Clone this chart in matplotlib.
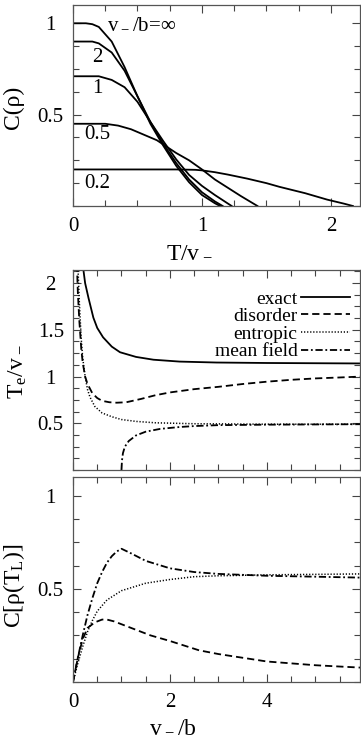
import numpy as np
import matplotlib
matplotlib.use("Agg")
import matplotlib.pyplot as plt
from matplotlib.ticker import MultipleLocator

plt.rcParams['font.family'] = ['Liberation Serif', 'DejaVu Serif']
plt.rcParams['mathtext.default'] = 'regular'
plt.rcParams['font.size'] = 15

# --- верхняя панель: C(rho) от T/v_ для разных v_/b ---
t_inf = [0, 0.1, 0.15, 0.2, 0.3, 0.4, 0.5, 0.6, 0.7, 0.8, 0.9, 1.0, 1.1, 1.14]
c_inf = [1, 1, 0.995, 0.98, 0.90, 0.76, 0.60, 0.45, 0.33, 0.22, 0.13, 0.06, 0.015, 0]
t_2 = [0, 0.15, 0.2, 0.3, 0.4, 0.5, 0.6, 0.7, 0.8, 0.9, 1.0, 1.1, 1.16]
c_2 = [0.9, 0.9, 0.89, 0.84, 0.74, 0.60, 0.46, 0.34, 0.235, 0.145, 0.075, 0.025, 0]
t_1 = [0, 0.2, 0.3, 0.4, 0.5, 0.6, 0.7, 0.8, 0.9, 1.0, 1.1, 1.23]
c_1 = [0.71, 0.71, 0.69, 0.65, 0.57, 0.46, 0.355, 0.255, 0.17, 0.11, 0.06, 0]
t_05 = [0, 0.25, 0.35, 0.45, 0.55, 0.65, 0.8, 0.9, 1.0, 1.1, 1.2, 1.3, 1.43]
c_05 = [0.45, 0.45, 0.44, 0.42, 0.39, 0.36, 0.29, 0.25, 0.2, 0.145, 0.1, 0.055, 0]
t_02 = [0, 0.8, 0.95, 1.0, 1.1, 1.2, 1.35, 1.5, 1.6, 1.8, 1.97, 2.1, 2.17]
c_02 = [0.2, 0.2, 0.198, 0.195, 0.185, 0.172, 0.15, 0.125, 0.105, 0.07, 0.035, 0.013, 0]
curve_labels = ['v$_-$/b=∞', '2', '1', '0.5', '0.2']

# --- средняя панель: T_e/v_ от v_/b ---
x_exact = [0.2, 0.25, 0.32, 0.42, 0.5, 0.62, 0.8, 0.97, 1.3, 1.66, 2.2, 2.96, 4.0, 5.95]
te_exact = [2.2, 2.0, 1.84, 1.63, 1.52, 1.42, 1.32, 1.26, 1.21, 1.18, 1.16, 1.15, 1.145, 1.14]
x_dis = [0.08, 0.1, 0.13, 0.17, 0.2, 0.25, 0.3, 0.4, 0.5, 0.6, 0.75, 0.9, 1.1, 1.4, 1.7,
         2.0, 2.5, 3.0, 3.5, 4.0, 4.5, 5.0, 5.5, 5.95]
te_dis = [2.2, 1.9, 1.6, 1.3, 1.15, 1.0, 0.92, 0.82, 0.77, 0.74, 0.725, 0.72, 0.725, 0.76, 0.80,
          0.83, 0.865, 0.89, 0.92, 0.945, 0.965, 0.98, 0.99, 1.0]
x_ent = [0.10, 0.13, 0.17, 0.2, 0.25, 0.3, 0.35, 0.45, 0.6, 0.8, 1.0, 1.3, 1.7, 2.5, 4.0, 5.95]
te_ent = [2.2, 1.8, 1.4, 1.2, 1.0, 0.86, 0.78, 0.68, 0.61, 0.57, 0.54, 0.52, 0.505, 0.495, 0.49, 0.49]
x_mf = [1.0, 1.01, 1.03, 1.07, 1.15, 1.3, 1.5, 1.8, 2.2, 2.5, 3.0, 4.0, 5.95]
te_mf = [0.0, 0.1, 0.18, 0.25, 0.31, 0.37, 0.41, 0.44, 0.46, 0.47, 0.48, 0.485, 0.49]
legend_labels = ['exact', 'disorder', 'entropic', 'mean field']

# --- нижняя панель: C[rho(T_L)] от v_/b ---
xb_dis = [0, 0.1, 0.2, 0.3, 0.45, 0.6, 0.7, 0.85, 1.0, 1.3, 1.6, 2.0, 2.6, 3.0, 3.5, 4.0,
          4.5, 5.0, 5.5, 5.95]
cb_dis = [0, 0.13, 0.23, 0.29, 0.32, 0.335, 0.335, 0.325, 0.31, 0.28, 0.25, 0.22, 0.17, 0.15,
          0.13, 0.11, 0.10, 0.09, 0.083, 0.077]
xb_ent = [0, 0.1, 0.2, 0.3, 0.4, 0.5, 0.7, 1.0, 1.5, 2.0, 2.5, 3.0, 4.0, 5.95]
cb_ent = [0, 0.1, 0.19, 0.27, 0.33, 0.38, 0.44, 0.49, 0.53, 0.55, 0.565, 0.57, 0.575, 0.58]
xb_mf = [0, 0.1, 0.2, 0.3, 0.4, 0.5, 0.6, 0.7, 0.8, 0.9, 1.0, 1.2, 1.5, 2.0, 2.5, 3.0, 4.0,
         5.0, 5.95]
cb_mf = [0, 0.13, 0.25, 0.36, 0.45, 0.53, 0.59, 0.64, 0.675, 0.70, 0.715, 0.69, 0.65, 0.61,
         0.59, 0.58, 0.57, 0.565, 0.56]

# деления и подписи осей
yt_top = [0.5, 1.0]
yt_top_lab = ['0.5', '1']
yt_mid = [0.5, 1.0, 1.5, 2.0]
yt_mid_lab = ['0.5', '1', '1.5', '2']
yt_bot = [0.5, 1.0]
yt_bot_lab = ['0.5', '1']
xt_top = [0, 1, 2]
xt_top_lab = ['0', '1', '2']
xt_bot = [0, 2, 4]
xt_bot_lab = ['0', '2', '4']

W, H = 361, 743
fig = plt.figure(figsize=(W / 100, H / 100), dpi=100)


def axes_px(left, top, right, bottom):
    return fig.add_axes([left / W, 1 - bottom / H, (right - left) / W, (bottom - top) / H])


ax1 = axes_px(73, 5, 360, 206)
ax2 = axes_px(73, 270, 360, 470)
ax3 = axes_px(73, 477, 360, 682)

lw = 1.3
ls_dis = (0, (4, 2.2))
ls_ent = (0, (0.8, 1.2))
ls_mf = (0, (4, 1.5, 1, 1.5))

for t, c in [(t_inf, c_inf), (t_2, c_2), (t_1, c_1), (t_05, c_05), (t_02, c_02)]:
    ax1.plot(t, c, color='black', lw=lw)

# подписи кривых
ax1.text(0.26, 1.0, curve_labels[0], ha='left', va='center')
ax1.text(0.19, 0.81, curve_labels[1], ha='center', va='center')
ax1.text(0.19, 0.645, curve_labels[2], ha='center', va='center')
ax1.text(0.19, 0.39, curve_labels[3], ha='center', va='center')
ax1.text(0.19, 0.125, curve_labels[4], ha='center', va='center')

ax2.plot(x_exact, te_exact, color='black', lw=lw, label=legend_labels[0])
ax2.plot(x_dis, te_dis, color='black', lw=lw, ls=ls_dis, label=legend_labels[1])
ax2.plot(x_ent, te_ent, color='black', lw=1.1, ls=ls_ent, label=legend_labels[2])
ax2.plot(x_mf, te_mf, color='black', lw=lw, ls=ls_mf, label=legend_labels[3])
ax2.legend(loc='upper right', bbox_to_anchor=(0.965, 0.9), frameon=False, markerfirst=False,
           borderaxespad=0, borderpad=0, labelspacing=0.0, handlelength=2.5,
           handletextpad=0.2, fontsize=14)

ax3.plot(xb_dis, cb_dis, color='black', lw=lw, ls=ls_dis)
ax3.plot(xb_ent, cb_ent, color='black', lw=1.1, ls=ls_ent)
ax3.plot(xb_mf, cb_mf, color='black', lw=lw, ls=ls_mf)

ax1.xaxis.set_minor_locator(MultipleLocator(0.25))
ax1.set_xticks(xt_top, xt_top_lab)
ax1.set_yticks(yt_top, yt_top_lab, ha='center')
ax2.set_xticks(xt_bot, [])
ax2.set_yticks(yt_mid, yt_mid_lab, ha='center')
ax3.set_xticks(xt_bot, xt_bot_lab)
ax3.set_yticks(yt_bot, yt_bot_lab, ha='center')
for ax in (ax2, ax3):
    ax.xaxis.set_minor_locator(MultipleLocator(0.5))

for ax in (ax1, ax2, ax3):
    ax.yaxis.set_minor_locator(MultipleLocator(0.125))
    ax.tick_params(which='both', direction='in', top=True, right=True, width=0.8,
                   color='#444444', labelsize=15)
    ax.tick_params(which='major', length=6)
    ax.tick_params(which='minor', length=4)
    ax.tick_params(axis='x', pad=8)
    ax.tick_params(axis='y', pad=16)
    for sp in ax.spines.values():
        sp.set_color('#555555')
        sp.set_linewidth(0.9)

ax1.set_xlim(0, 2.225)
ax1.set_ylim(0, 1.1)
ax2.set_xlim(0, 5.92)
ax2.set_ylim(0, 2.14)
ax3.set_xlim(0, 5.92)
ax3.set_ylim(0, 1.1)

ax1.set_xlabel('T/v$_-$', fontsize=17)
ax1.xaxis.set_label_coords((189 - 73) / 287, -35 / 201)
ax3.set_xlabel('v$_-$/b', fontsize=17)
ax3.xaxis.set_label_coords((173 - 73) / 287, -34 / 205)
ax1.set_ylabel('C(ρ)', fontsize=17)
ax1.yaxis.set_label_coords((24 - 73) / 287, 0.49)
ax2.set_ylabel('T$_e$/v$_-$', fontsize=17)
ax2.yaxis.set_label_coords((29 - 73) / 287, 0.49)
ax3.set_ylabel('C[ρ(T$_L$)]', fontsize=17)
ax3.yaxis.set_label_coords((27 - 73) / 287, 0.47)

fig.savefig('out.png', dpi=100)
